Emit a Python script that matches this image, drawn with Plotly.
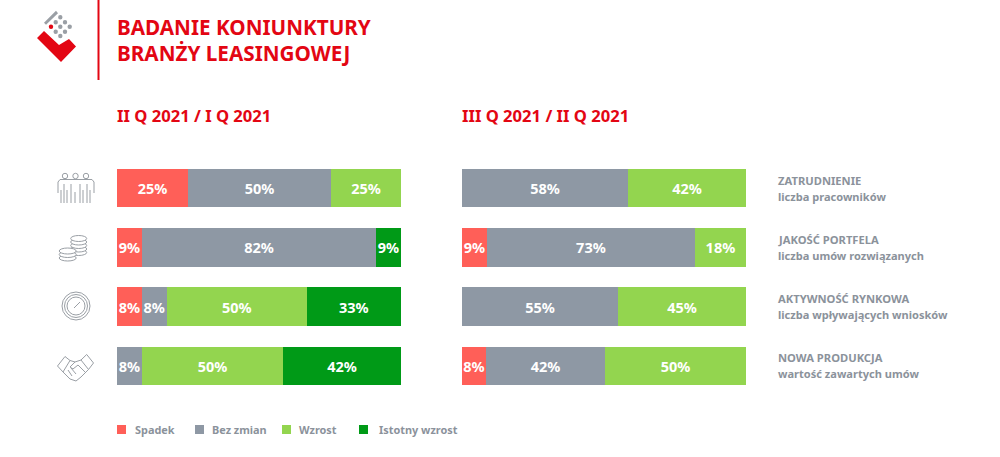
import plotly.graph_objects as go
from plotly.subplots import make_subplots

W = 1000
H = 457

categories = ["ZATRUDNIENIE", "JAKOŚĆ PORTFELA", "AKTYWNOŚĆ RYNKOWA", "NOWA PRODUKCJA"]
subtitles = ["liczba pracowników", "liczba umów rozwiązanych",
             "liczba wpływających wniosków", "wartość zawartych umów"]
series_names = ["Spadek", "Bez zmian", "Wzrost", "Istotny wzrost"]
series_colors = ["#ff5f58", "#8e98a4", "#93d54f", "#009a17"]

# left panel, II Q / I Q
left_spadek = [25, 8.8, 8.7, 0]
left_bez_zmian = [50.4, 82.4, 8.8, 8.8]
left_wzrost = [24.6, 0, 49.3, 49.7]
left_istotny = [0, 8.8, 33.2, 41.5]
left_labels = [["25%", "9%", "8%", ""], ["50%", "82%", "8%", "8%"],
               ["25%", "", "50%", "50%"], ["", "9%", "33%", "42%"]]

# right panel, III Q / II Q
right_spadek = [0, 8.8, 0, 8.4]
right_bez_zmian = [58.5, 73.2, 54.9, 42]
right_wzrost = [41.5, 18, 45.1, 49.6]
right_istotny = [0, 0, 0, 0]
right_labels = [["", "9%", "", "8%"], ["58%", "73%", "55%", "42%"],
                ["42%", "18%", "45%", "50%"], ["", "", "", ""]]

RED = "#e30613"
GRAY = "#8b929b"
ICON = "#9a9fa5"
FONT = "Noto Sans"


def px(x):
    return x / W


def py(y):
    return 1 - y / H


fig = make_subplots(rows=1, cols=2, shared_yaxes=False)

panels = [
    (1, [left_spadek, left_bez_zmian, left_wzrost, left_istotny], left_labels),
    (2, [right_spadek, right_bez_zmian, right_wzrost, right_istotny], right_labels),
]
for col, panel, labels in panels:
    for name, color, values, texts in zip(series_names, series_colors, panel, labels):
        fig.add_trace(go.Bar(
            y=categories,
            x=values,
            orientation="h",
            name=name,
            showlegend=False,
            marker=dict(color=color, line=dict(width=0)),
            text=texts,
            textposition="inside",
            insidetextanchor="middle",
            constraintext="none",
            textangle=0,
            textfont=dict(family=FONT, size=14.5, color="white", weight="bold"),
        ), row=1, col=col)

fig.update_layout(
    width=W,
    height=H,
    margin=dict(l=0, r=0, t=0, b=0),
    paper_bgcolor="white",
    plot_bgcolor="white",
    barmode="stack",
    bargap=0.35,
    showlegend=False,
    font=dict(family=FONT),
    xaxis=dict(domain=[px(117), px(401)], range=[0, 100], visible=False),
    xaxis2=dict(domain=[px(462), px(746)], range=[0, 100], visible=False),
    yaxis=dict(domain=[py(395.5), py(158.5)], autorange="reversed", visible=False),
    yaxis2=dict(domain=[py(395.5), py(158.5)], autorange="reversed", visible=False),
)


def label(x, y, text, size, color):
    # annotations sit 2px inside their anchor
    fig.add_annotation(
        xref="paper", yref="paper", x=px(x - 2), y=py(y), text=text, showarrow=False,
        xanchor="left", yanchor="middle", align="left",
        font=dict(family=FONT, size=size, color=color, weight="bold"),
    )


def shape_path(points, fill=None, line=None, width=1, close=True):
    d = "M " + " L ".join(f"{px(a):.5f},{py(b):.5f}" for a, b in points)
    if close:
        d += " Z"
    fig.add_shape(type="path", path=d, xref="paper", yref="paper",
                  fillcolor=fill, line=dict(color=line, width=width if line else 0))


def ellipse(cx, cy, rx, ry, fill=None, line=None, width=1):
    fig.add_shape(type="circle", xref="paper", yref="paper",
                  x0=px(cx - rx), x1=px(cx + rx), y0=py(cy + ry), y1=py(cy - ry),
                  fillcolor=fill, line=dict(color=line, width=width if line else 0))


def seg(x0, y0, x1, y1, color=ICON, width=1):
    fig.add_shape(type="line", xref="paper", yref="paper",
                  x0=px(x0), y0=py(y0), x1=px(x1), y1=py(y1),
                  line=dict(color=color, width=width))


# header
label(117, 27, "BADANIE KONIUNKTURY", 20.7, RED)
label(117, 53, "BRANŻY LEASINGOWEJ", 20.7, RED)
label(117, 116, "II Q 2021 / I Q 2021", 16.6, RED)
label(462, 116, "III Q 2021 / II Q 2021", 16.6, RED)
seg(98.5, 0, 98.5, 80, RED, 2)

# logo
shape_path([(37, 38), (44, 31), (59, 45), (69, 39), (76, 46.5), (61, 62)], fill=RED)
shape_path([(44, 22.7), (56, 10.7), (58, 13.3), (46, 24.7)], fill="#9a9fa5")
for cx, cy in [(60.3, 17.3), (65, 22.3), (69.7, 26.7), (55.7, 22.3),
               (60.3, 26.7), (65, 31.7), (55.7, 31.7), (60.3, 36)]:
    ellipse(cx, cy, 2.2, 2.2, fill="#9a9fa5")
ellipse(51, 26.7, 2.2, 2.2, fill=RED)

# icon: people
for cx in [65, 75.5, 86]:
    ellipse(cx, 176, 2.7, 2.7, line=ICON)
shape_path([(58, 193), (58, 182), (60, 179.5), (92, 179.5), (94, 182), (94, 193)],
           line=ICON, close=False)
for x, top in [(61, 190), (64, 184), (67, 190), (71, 184), (75, 192),
               (80, 184), (83, 190), (87, 184), (90, 190)]:
    seg(x, top, x, 203)

# icon: coins
for cy in [252.5, 249, 245.5, 242, 238.5]:
    ellipse(78.7, cy, 8, 3, fill="white", line=ICON)
for cy in [258, 254.5, 251]:
    ellipse(67.7, cy, 8.5, 3, fill="white", line=ICON)

# icon: gauge
ellipse(76, 306, 14, 14, line=ICON)
ellipse(76, 306, 11.5, 11.5, line=ICON)
ellipse(76, 306, 9, 9, line=ICON)
seg(74, 308, 80, 302)

# icon: handshake
shape_path([(57.5, 366), (65, 356.5), (70, 360.5), (63, 372)], line=ICON)
shape_path([(81, 360), (86.7, 354.5), (93.5, 363), (88.5, 369.5)], line=ICON)
shape_path([(70, 360.5), (75, 362), (81, 360)], line=ICON, close=False)
shape_path([(63, 372), (70, 379), (76, 381), (81, 377), (88.5, 369.5)], line=ICON, close=False)
shape_path([(75, 362), (70, 367), (73, 369), (78, 365), (85, 372)], line=ICON, close=False)
seg(68, 370, 72, 376)
seg(71, 368, 76, 374)

# row labels on the right
for i, (cat, sub) in enumerate(zip(categories, subtitles)):
    label(778, 180.5 + 59 * i, cat, 11.2, GRAY)
    label(778, 196.5 + 59 * i, sub, 11.05, GRAY)

# legend
legend_x = [117, 195, 282, 359]
legend_text_x = [135, 212, 299, 379]
for name, color, x0, xt in zip(series_names, series_colors, legend_x, legend_text_x):
    fig.add_shape(type="rect", xref="paper", yref="paper",
                  x0=px(x0), x1=px(x0 + 9), y0=py(434), y1=py(425),
                  fillcolor=color, line=dict(width=0))
    label(xt, 429.5, name, 10.9, GRAY)

fig.write_html("out.html", config={"displayModeBar": False},
               post_script="document.body.style.margin='0';")
